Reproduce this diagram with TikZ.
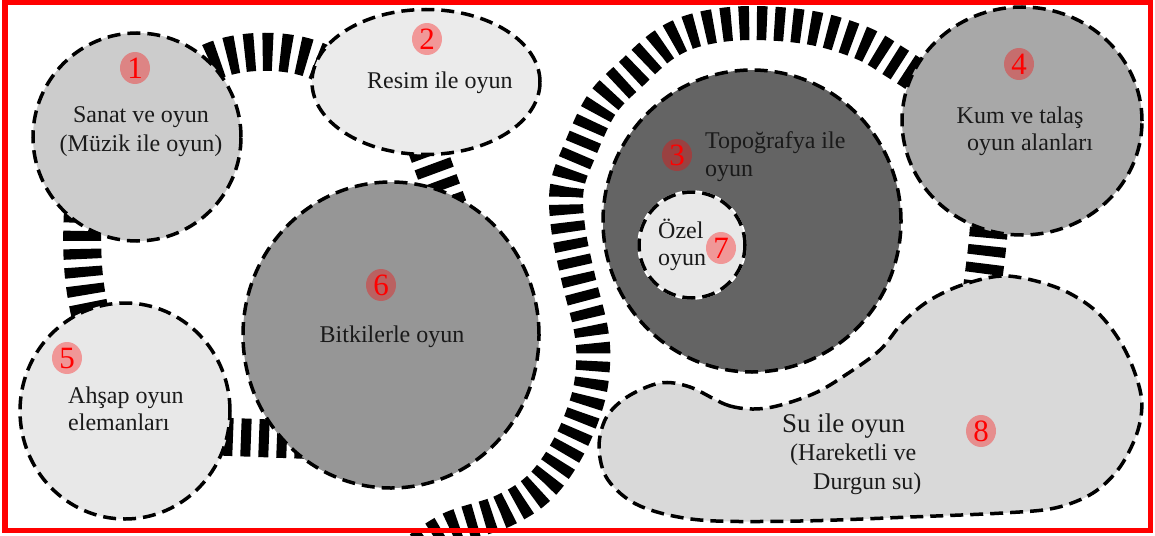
\documentclass[tikz,border=0pt]{standalone}
\usepackage{fontspec}
\setmainfont{Liberation Serif}
\usetikzlibrary{shapes.geometric,backgrounds}
\definecolor{gA}{HTML}{CCCCCC}
\definecolor{gB}{HTML}{EBEBEB}
\definecolor{gC}{HTML}{646464}
\definecolor{gD}{HTML}{A8A8A8}
\definecolor{gE}{HTML}{E8E8E8}
\definecolor{gF}{HTML}{969696}
\definecolor{gG}{HTML}{E8E8E8}
\definecolor{gH}{HTML}{D9D9D9}
\definecolor{frameRed}{HTML}{FF0000}
\definecolor{ink}{HTML}{1A1A1A}
\begin{document}
\begin{tikzpicture}[x=1pt,y=-1pt,
  zone/.style={draw=black, line width=3.5pt, dash pattern=on 13pt off 7pt, inner sep=0pt, outer sep=0pt},
  band/.style={draw=black, line width=38pt, dash pattern=on 10pt off 8pt},
  ringband/.style={draw=black, line width=34pt, dash pattern=on 10pt off 7.7pt},
  badge/.style={ellipse, fill=red, fill opacity=0.35, text opacity=1, text=red, minimum width=30pt, minimum height=32pt, inner sep=0pt, font=\fontsize{31}{31}\selectfont},
  lbl/.style={text=ink, inner sep=0pt, font=\fontsize{24}{29}\selectfont},
  biglbl/.style={text=ink, inner sep=0pt, font=\fontsize{27}{32}\selectfont},
]
\useasboundingbox (0,0) rectangle (1155,535);
\clip (0,0) rectangle (1155,535);

% zones
\node[zone, circle, fill=gA, minimum size=208pt] (z1) at (137,137) {};
\node[zone, ellipse, fill=gB, minimum width=228pt, minimum height=145pt] (z2) at (426,82) {};
\node[zone, ellipse, fill=gC, minimum width=298pt, minimum height=302pt] (z3) at (752,221) {};
\node[zone, ellipse, fill=gD, minimum width=240pt, minimum height=228pt] (z4) at (1022,121) {};
\node[zone, ellipse, fill=gE, minimum width=210pt, minimum height=216pt] (z5) at (125,411) {};
\node[zone, ellipse, fill=gF, minimum width=296pt, minimum height=306pt] (z6) at (391,335) {};
\node[zone, circle, fill=gG, minimum size=106pt, preaction={draw=white, line width=3.5pt, solid}] (z7) at (692,245) {};
\coordinate (z8) at (880,450);
\coordinate (ringStart) at (420,548);
\draw[zone, fill=gH] plot[smooth cycle, tension=0.55] coordinates {
  (690,387) (730,406) (767,408) (813,394) (847,374) (880,350) (903,322)
  (930,300) (965,284) (1007,276) (1058,288) (1097,312) (1125,350) (1141,395)
  (1138,430) (1120,467) (1093,493) (1055,508) (1003,513) (910,517) (800,521)
  (700,520) (640,506) (608,480) (599,448) (606,418) (627,397) (660,383)};

% paths (bands) behind the zones
\begin{scope}[on background layer]
\fill[white] (0,0) rectangle (1155,535);
\draw[band] ([shift={(58,-65)}]z1.center) .. controls (225,45) and (305,45) .. ([shift={(-91,-10)}]z2.center);
\draw[band] ([shift={(-53,58)}]z1.center) .. controls (80,250) and (82,290) .. ([shift={(-29,-76)}]z5.center);
\draw[band] ([shift={(-6,48)}]z2.center) -- ([shift={(64,-110)}]z6.center);
\draw[band] ([shift={(80,25)}]z5.center) -- ([shift={(-81,105)}]z6.center);
\draw[band] ([shift={(-32,89)}]z4.center) .. controls (988,250) and (984,270) .. ([shift={(100,-145)}]z8);
\draw[ringband] plot[smooth, tension=0.6] coordinates {
  (ringStart) (452,528) (503,511) (540,487) (568,448) (587,402) (593,365)
  (591,330) (578,277) (568,227) (567,187) (580,150) (602,104) (633,72)
  (665,44) (700,29) (750,23) (812,28) (862,43) (895,62) (930,85)};
\end{scope}

% badges
\node[badge] (b1) at (135,68) {1};
\node[badge] (b2) at (427,39) {2};
\node[badge] (b3) at (677,155) {3};
\node[badge] (b4) at (1019,64) {4};
\node[badge] (b5) at (67,358) {5};
\node[badge] (b6) at (381,285) {6};
\node[badge] (b7) at (721,248) {7};
\node[badge] (b8) at (981,431) {8};

% labels
\node[lbl, anchor=base] (t1a) at (141,122) {Sanat ve oyun};
\node[lbl, anchor=base] (t1b) at (141,151) {(Müzik ile oyun)};
\node[lbl, anchor=base west] (t2) at (367,88) {Resim ile oyun};
\node[lbl, anchor=base west] (t3a) at (705,148) {Topoğrafya ile};
\node[lbl, anchor=base west] (t3b) at (705,176) {oyun};
\node[lbl, anchor=base] (t4a) at (1020,123) {Kum ve talaş};
\node[lbl, anchor=base] (t4b) at (1030,150) {oyun alanları};
\node[lbl, anchor=base west] (t5a) at (68,403) {Ahşap oyun};
\node[lbl, anchor=base west] (t5b) at (68,430) {elemanları};
\node[lbl, anchor=base] (t6) at (392,342) {Bitkilerle oyun};
\node[lbl, anchor=base west] (t7a) at (658,238) {Özel};
\node[lbl, anchor=base west] (t7b) at (658,265) {oyun};
\node[biglbl, anchor=base west] (t8a) at (782,432) {Su ile oyun};
\node[lbl, anchor=base west] (t8b) at (790,460) {(Hareketli ve};
\node[lbl, anchor=base west] (t8c) at (813,489) {Durgun su)};

% frame
\draw[frameRed, line width=5.5pt] (5,2.75) rectangle (1150.5,530.5);
\end{tikzpicture}
\end{document}
